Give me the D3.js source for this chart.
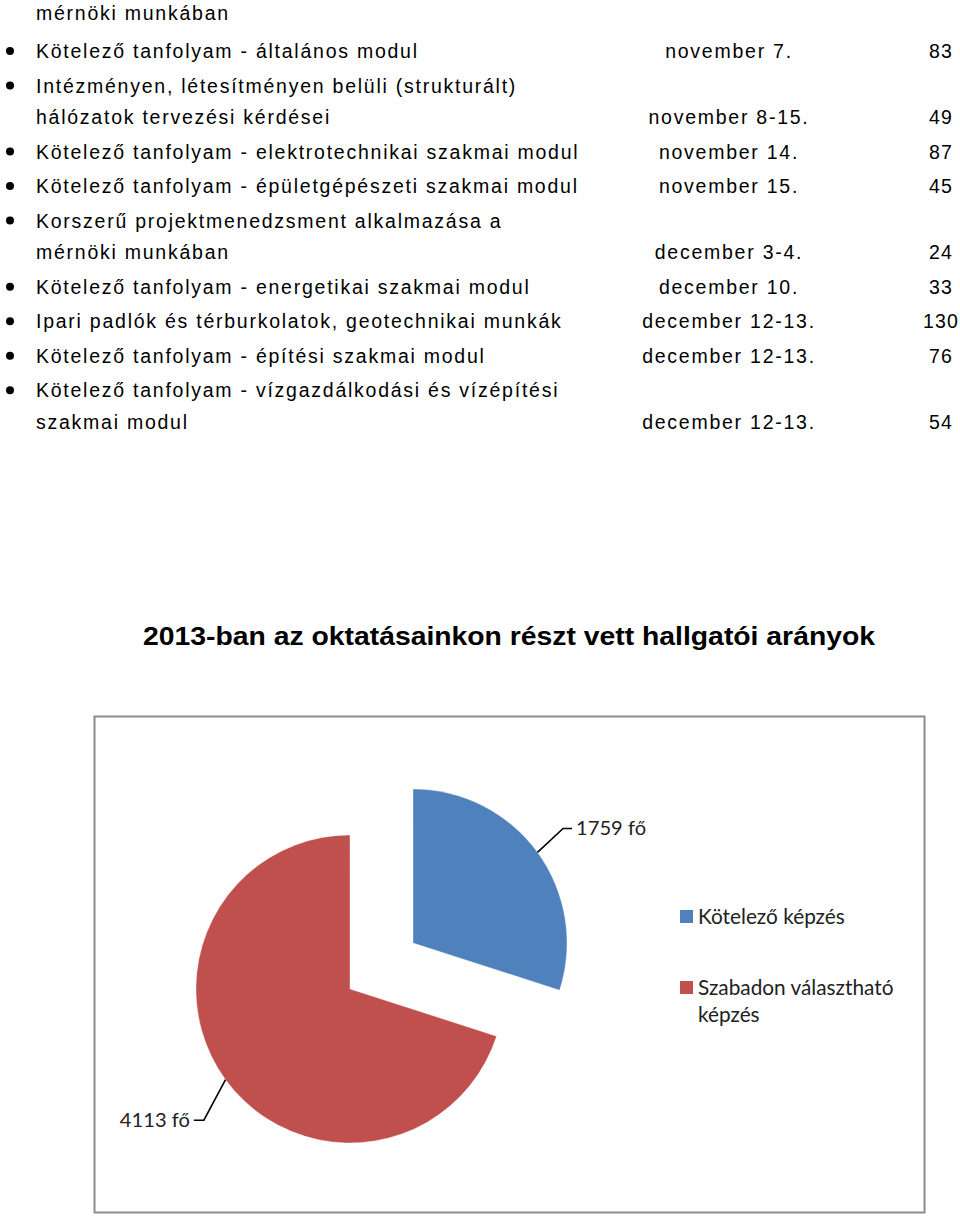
<!DOCTYPE html>
<html>
<head>
<meta charset="utf-8">
<script src="https://cdn.jsdelivr.net/npm/d3@7"></script>
<style>
  body { margin: 0; background: #fff; }
  svg { display: block; }
</style>
</head>
<body>
<div id="chart"></div>
<script>
// course list (continues from previous page, first line has no bullet)
const courseLines = [
    ["Kötelező tanfolyam - általános modul"],
    ["Intézményen, létesítményen belüli (strukturált)", "hálózatok tervezési kérdései"],
    ["Kötelező tanfolyam - elektrotechnikai szakmai modul"],
    ["Kötelező tanfolyam - épületgépészeti szakmai modul"],
    ["Korszerű projektmenedzsment alkalmazása a", "mérnöki munkában"],
    ["Kötelező tanfolyam - energetikai szakmai modul"],
    ["Ipari padlók és térburkolatok, geotechnikai munkák"],
    ["Kötelező tanfolyam - építési szakmai modul"],
    ["Kötelező tanfolyam - vízgazdálkodási és vízépítési", "szakmai modul"]
];
const courseDates = ["november 7.", "november 8-15.", "november 14.", "november 15.",
    "december 3-4.", "december 10.", "december 12-13.", "december 12-13.", "december 12-13."];
const courseCounts = [83, 49, 87, 45, 24, 33, 130, 76, 54];

// pie data
const pieLabels = ["Kötelező képzés", "Szabadon választható képzés"];
const pieValues = [1759, 4113];
const pieColors = ["#4f81bd", "#c0504d"];
const chartTitle = "2013-ban az oktatásainkon részt vett hallgatói arányok";

const W = 960, H = 1217;
const svg = d3.select("#chart").append("svg")
    .attr("width", W).attr("height", H);

// --- text list ---
const listFont = "'Liberation Sans', Arial, sans-serif";
const lineH = 31.6, rowGap = 34.5;
const list = svg.append("g")
    .attr("font-family", listFont)
    .attr("font-size", 19.5)
    .attr("fill", "#000");

list.append("text").attr("x", 36).attr("y", 20)
    .attr("letter-spacing", "1.75px").text("mérnöki munkában");

let y = 58;
courseLines.forEach((lines, i) => {
    list.append("circle").attr("cx", 10).attr("cy", y - 7).attr("r", 4);
    lines.forEach((t, j) => {
        list.append("text").attr("x", 36).attr("y", y + j * lineH)
            .attr("letter-spacing", "1.75px").text(t);
    });
    const last = y + (lines.length - 1) * lineH;
    list.append("text").attr("x", 729).attr("y", last)
        .attr("letter-spacing", "1.75px")
        .attr("text-anchor", "middle").text(courseDates[i]);
    list.append("text").attr("x", 941).attr("y", last)
        .attr("letter-spacing", "1.2px")
        .attr("text-anchor", "middle").text(courseCounts[i]);
    y = last + rowGap;
});

// --- title ---
svg.append("text")
    .attr("x", 509).attr("y", 645)
    .attr("text-anchor", "middle")
    .attr("font-family", listFont)
    .attr("font-weight", "bold")
    .attr("font-size", 26)
    .attr("textLength", 732)
    .attr("lengthAdjust", "spacingAndGlyphs")
    .text(chartTitle);

// --- chart box ---
svg.append("rect")
    .attr("x", 94.5).attr("y", 716.5)
    .attr("width", 830).attr("height", 496)
    .attr("fill", "#fff")
    .attr("stroke", "#8c8c8c")
    .attr("stroke-width", 2);

// --- pie ---
const cx = 381.5, cy = 966, radius = 154, explode = 39;
// leader line: angle of the first segment (radians, clockwise from 12 o'clock) and its length
const leader = [{ angle: 0.82, len: 35 }, { angle: Math.PI + 0.49, len: 46 }];
const pie = d3.pie().sort(null).value(d => d)(pieValues);
const arc = d3.arc().innerRadius(0).outerRadius(radius);
const labelFont = "Lato, 'Open Sans', sans-serif";

const gPie = svg.append("g").attr("transform", `translate(${cx},${cy})`);
pie.forEach((p, i) => {
    const mid = (p.startAngle + p.endAngle) / 2;
    const dx = Math.sin(mid) * explode, dy = -Math.cos(mid) * explode;
    const g = gPie.append("g").attr("transform", `translate(${dx},${dy})`);
    g.append("path").attr("d", arc(p)).attr("fill", pieColors[i])
        .attr("stroke", "#fff").attr("stroke-opacity", 0.35).attr("stroke-width", 1);

    // leader line and value label
    const ex = Math.sin(mid) * radius, ey = -Math.cos(mid) * radius;
    const right = Math.sin(mid) > 0;
    const L = leader[i];
    const bx = ex + Math.sin(L.angle) * L.len, by = ey - Math.cos(L.angle) * L.len;
    const hx = bx + (right ? 9 : -10);
    g.append("path")
        .attr("d", `M${ex},${ey}L${bx},${by}L${hx},${by}`)
        .attr("fill", "none").attr("stroke", "#000").attr("stroke-width", 1.6);
    g.append("text")
        .attr("x", hx + (right ? 4 : -4)).attr("y", by + 7)
        .attr("text-anchor", right ? "start" : "end")
        .attr("font-family", labelFont).attr("font-size", 20)
        .attr("fill", "#222")
        .attr("textLength", 70).attr("lengthAdjust", "spacingAndGlyphs")
        .text(d3.format("d")(pieValues[i]) + " fő");
});

// --- legend ---
const legend = svg.append("g").attr("font-family", labelFont).attr("font-size", 20.8).attr("fill", "#222");
const legendRows = [[pieLabels[0]], ["Szabadon választható", "képzés"]];
legendRows.forEach((rows, i) => {
    const ly = 924 + i * 71;
    legend.append("rect").attr("x", 680).attr("y", ly - 14)
        .attr("width", 13).attr("height", 13).attr("fill", pieColors[i]);
    rows.forEach((t, j) => {
        legend.append("text").attr("x", 698).attr("y", ly + j * 27).text(t);
    });
});
</script>
</body>
</html>
